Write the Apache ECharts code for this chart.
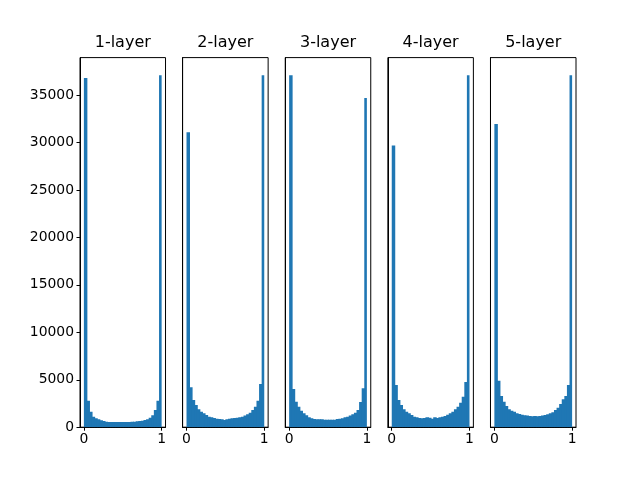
<!DOCTYPE html>
<html>
<head>
<meta charset="utf-8">
<script src="https://cdn.jsdelivr.net/npm/echarts@6/dist/echarts.min.js"></script>
<style>html,body{margin:0;padding:0;background:#fff}#c{width:640px;height:480px}</style>
</head>
<body>
<div id="c"></div>
<script>
// Histogram: 30 bins over [0, 1]
var binCount = 30;
var binRange = [0, 1];
var titles = ['1-layer', '2-layer', '3-layer', '4-layer', '5-layer'];
var layer1 = [36800, 2800, 1640, 1110, 935, 830, 725, 655, 585, 550, 550, 550, 550, 550, 550, 550, 550, 550, 585, 585, 620, 655, 690, 760, 830, 1000, 1250, 1800, 2800, 37100];
var layer2 = [31100, 4200, 2870, 2340, 1880, 1640, 1460, 1290, 1110, 1040, 970, 900, 865, 830, 760, 830, 900, 935, 970, 1005, 1040, 1110, 1220, 1360, 1530, 1810, 2160, 2800, 4550, 37100];
var layer3 = [37100, 4030, 2690, 2160, 1740, 1460, 1250, 1040, 935, 865, 830, 830, 830, 795, 795, 795, 795, 795, 865, 900, 935, 1040, 1110, 1220, 1360, 1530, 1810, 2660, 4100, 34700];
var layer4 = [29700, 4450, 2870, 2340, 1880, 1640, 1460, 1290, 1110, 1040, 970, 935, 970, 1040, 1005, 900, 1040, 970, 1040, 1110, 1180, 1320, 1460, 1640, 1880, 2160, 2590, 3220, 4760, 37100];
var layer5 = [31950, 4900, 3290, 2690, 2230, 1880, 1740, 1640, 1460, 1390, 1320, 1250, 1220, 1180, 1145, 1180, 1145, 1180, 1220, 1290, 1360, 1460, 1570, 1810, 2060, 2450, 2940, 3300, 4450, 37100];
var yTicks = [0, 5000, 10000, 15000, 20000, 25000, 30000, 35000];
var xTicks = [0, 1];

var layers = [layer1, layer2, layer3, layer4, layer5];
var color = '#1f77b4';
var font = 'DejaVu Sans';

var yMax = 0;
layers.forEach(function (l) { l.forEach(function (v) { if (v > yMax) yMax = v; }); });
yMax = yMax * 1.05;
var span = binRange[1] - binRange[0];
var xMin = binRange[0] - 0.05 * span, xMax = binRange[1] + 0.05 * span;

var figW = 640, figH = 480;
var L = 0.125 * figW, R = 0.9 * figW, T = (1 - 0.88) * figH, B = 0.11 * figH;
var n = layers.length;
var w = (R - L) / (n + (n - 1) * 0.2);
var gap = 0.2 * w;
var h = figH - T - B;

var grids = [], xAxes = [], yAxes = [], series = [], titleArr = [];
layers.forEach(function (counts, i) {
  var left = L + i * (w + gap);
  grids.push({ left: left, top: T, width: w, height: h, show: true, borderColor: '#000', borderWidth: 1, backgroundColor: 'transparent' });
  xAxes.push({
    type: 'value', gridIndex: i, min: xMin, max: xMax,
    splitLine: { show: false },
    axisLine: { show: true, onZero: false, lineStyle: { color: '#000', width: 1 } },
    axisTick: { show: true, customValues: xTicks, length: 3.5, lineStyle: { color: '#000' } },
    axisLabel: { show: true, customValues: xTicks, margin: 5, color: '#000', fontSize: 13.9, fontFamily: font, formatter: function (v) { return String(v); } }
  });
  yAxes.push({
    type: 'value', gridIndex: i, min: 0, max: yMax,
    splitLine: { show: false },
    axisLine: { show: true, onZero: false, lineStyle: { color: '#000', width: 1 } },
    axisTick: { show: i === 0, customValues: yTicks, length: 3.5, lineStyle: { color: '#000' } },
    axisLabel: { show: i === 0, customValues: yTicks, margin: 6, color: '#000', fontSize: 13.9, fontFamily: font, formatter: function (v) { return String(v); } }
  });
  var data = counts.map(function (c, k) {
    return [binRange[0] + k * span / binCount, binRange[0] + (k + 1) * span / binCount, c];
  });
  series.push({
    type: 'custom', xAxisIndex: i, yAxisIndex: i, data: data, clip: true,
    encode: { x: [0, 1], y: 2 },
    renderItem: function (params, api) {
      var p0 = api.coord([api.value(0), api.value(2)]);
      var p1 = api.coord([api.value(1), 0]);
      var extra = params.dataIndex < binCount - 1 ? 0.9 : 0;
      return { type: 'rect', shape: { x: p0[0], y: p0[1], width: p1[0] - p0[0] + extra, height: p1[1] - p0[1] }, style: { fill: color }, silent: true };
    }
  });
  titleArr.push({ text: titles[i], left: left + w / 2, textAlign: 'center', top: 35, padding: 0, textStyle: { color: '#000', fontSize: 16, fontWeight: 'normal', fontFamily: font } });
});

var chart = echarts.init(document.getElementById('c'), null, { renderer: 'canvas' });
chart.setOption({
  animation: false,
  backgroundColor: '#fff',
  title: titleArr,
  grid: grids,
  xAxis: xAxes,
  yAxis: yAxes,
  series: series
});
</script>
</body>
</html>
